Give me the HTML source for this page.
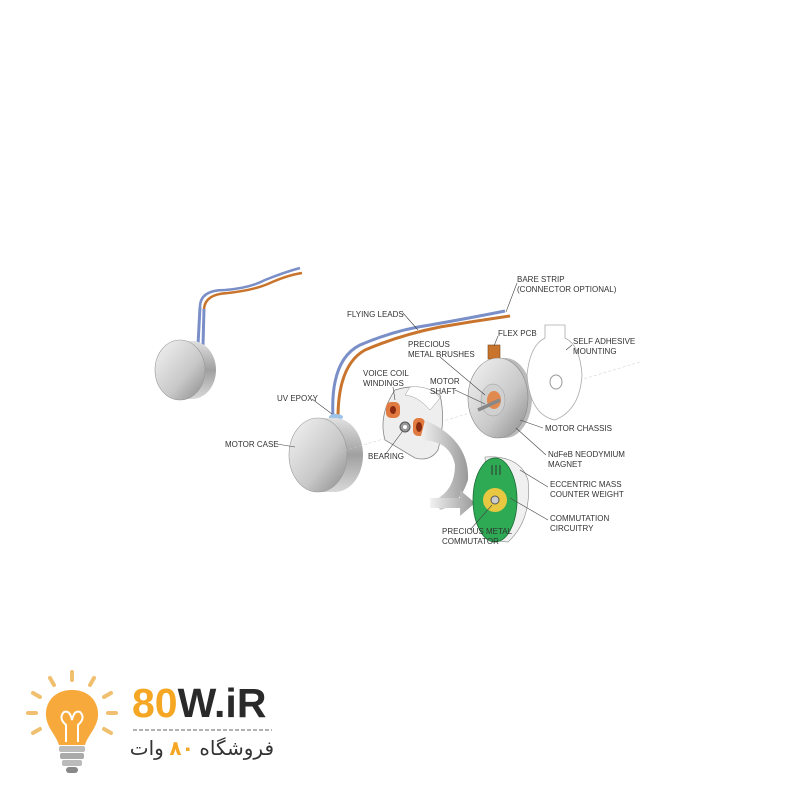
<!DOCTYPE html>
<html><head><meta charset="utf-8"><style>
body{margin:0;background:#fff;width:800px;height:800px;overflow:hidden;position:relative}
svg text{font-family:"Liberation Sans",sans-serif;font-size:8px;fill:#333}
#fa{position:absolute;left:128px;top:737px;width:146px;text-align:right;direction:rtl;font-family:"Liberation Sans","DejaVu Sans",sans-serif;font-size:20px;color:#333;line-height:24px;white-space:nowrap}
</style></head><body>
<svg width="800" height="800" viewBox="0 0 800 800" xmlns="http://www.w3.org/2000/svg">
<defs>
<linearGradient id="met" x1="0" y1="0" x2="1" y2="1"><stop offset="0" stop-color="#f4f4f4"/><stop offset="0.6" stop-color="#c8c8c8"/><stop offset="1" stop-color="#8a8a8a"/></linearGradient>
<linearGradient id="side" x1="0" y1="0" x2="0" y2="1"><stop offset="0" stop-color="#e0e0e0"/><stop offset="0.5" stop-color="#a0a0a0"/><stop offset="1" stop-color="#d8d8d8"/></linearGradient>
<linearGradient id="arr" x1="0" y1="0" x2="1" y2="0"><stop offset="0" stop-color="#f2f2f2"/><stop offset="1" stop-color="#999"/></linearGradient>
</defs>
<path d="M200,307 Q200,290 225,290 Q250,288 265,280 Q285,272 300,268" stroke="#7a8fc8" stroke-width="2.5" fill="none"/>
<path d="M204,309 Q205,294 228,293 Q255,290 270,283 Q288,275 302,273" stroke="#c8742c" stroke-width="2.5" fill="none"/>
<path d="M200,307 L198,345 M204,309 L203,345" stroke="#7a8fc8" stroke-width="3"/>
<ellipse cx="192" cy="370" rx="24" ry="29" fill="url(#side)"/>
<rect x="183" y="341" width="10" height="58" fill="url(#side)"/>
<ellipse cx="180" cy="370" rx="25" ry="30" fill="url(#met)" stroke="#999" stroke-width="0.6"/>
<path d="M333,417 Q330,360 360,345 Q395,330 430,325 Q470,318 505,311" stroke="#7a8fc8" stroke-width="3" fill="none"/>
<path d="M338,418 Q338,365 365,350 Q400,335 440,327 Q475,321 510,316" stroke="#c8742c" stroke-width="3" fill="none"/>
<ellipse cx="336" cy="417" rx="7" ry="3" fill="#9cc3e8"/>
<ellipse cx="335" cy="455" rx="28" ry="37" fill="url(#side)"/>
<rect x="318" y="418" width="18" height="74" fill="url(#side)"/>
<ellipse cx="318" cy="455" rx="29" ry="37" fill="url(#met)" stroke="#999" stroke-width="0.6"/>
<line x1="340" y1="452" x2="640" y2="362" stroke="#ccc" stroke-width="0.5" stroke-dasharray="3,2"/>
<path d="M395,390 Q420,382 440,395 Q446,420 438,450 Q430,462 415,458 L385,440 Q378,415 395,390Z" fill="#eee" stroke="#888" stroke-width="0.8"/>
<path d="M410,387 Q430,385 440,398 L430,410 Q418,396 405,395Z" fill="#fff" stroke="#999" stroke-width="0.5"/>
<rect x="386" y="402" width="14" height="16" rx="5" fill="#e07a40"/><ellipse cx="393" cy="410" rx="3" ry="4" fill="#8a2a10"/>
<rect x="413" y="418" width="12" height="18" rx="5" fill="#e07a40"/><ellipse cx="419" cy="427" rx="3" ry="5" fill="#8a2a10"/>
<circle cx="405" cy="427" r="5" fill="#999" stroke="#555"/><circle cx="405" cy="427" r="2" fill="#fff"/>
<rect x="488" y="345" width="12" height="14" fill="#c8742c" stroke="#7a4a1a" stroke-width="0.6"/>
<ellipse cx="505" cy="398" rx="27" ry="40" fill="#bbb"/>
<ellipse cx="498" cy="398" rx="30" ry="40" fill="url(#met)" stroke="#888" stroke-width="0.6"/>
<ellipse cx="493" cy="400" rx="12" ry="16" fill="#d0d0d0" stroke="#999" stroke-width="0.5"/>
<ellipse cx="494" cy="400" rx="7" ry="9" fill="#e08a50"/>
<line x1="478" y1="410" x2="500" y2="400" stroke="#888" stroke-width="3.5"/>
<path d="M545,325 L565,325 L565,338 Q580,345 582,375 Q580,410 555,420 Q530,415 527,375 Q530,345 545,338Z" fill="#fff" stroke="#aaa" stroke-width="0.8"/>
<ellipse cx="556" cy="382" rx="6" ry="7" fill="none" stroke="#999"/>
<path d="M425,420 Q470,440 468,480 Q460,505 440,510 L435,500 Q455,490 455,465 Q450,440 420,440Z" fill="url(#arr)"/>
<path d="M430,498 L460,498 L460,490 L475,503 L460,516 L460,508 L430,508Z" fill="url(#arr)"/>
<path d="M485,457 Q520,455 528,480 Q532,520 508,542 L490,540 Z" fill="#f0f0f0" stroke="#888" stroke-width="0.6"/>
<ellipse cx="495" cy="500" rx="22" ry="42" fill="#2eaa55" stroke="#1b6a35" stroke-width="0.8"/>
<circle cx="495" cy="500" r="12" fill="#e8c840"/>
<circle cx="495" cy="500" r="4" fill="#ccc" stroke="#555"/>
<line x1="492" y1="465" x2="492" y2="475" stroke="#333"/><line x1="496" y1="465" x2="496" y2="475" stroke="#333"/><line x1="500" y1="465" x2="500" y2="475" stroke="#333"/>
<g stroke="#444" stroke-width="0.6" fill="none">
<path d="M517,283 L506,312"/><path d="M403,313 L418,330"/><path d="M498,336 L494,346"/>
<path d="M572,345 L566,350"/><path d="M440,357 L485,395"/><path d="M393,387 L395,400"/>
<path d="M455,390 L485,404"/><path d="M312,399 L332,414"/><path d="M543,428 L520,420"/>
<path d="M277,444 L295,447"/><path d="M385,455 L402,432"/><path d="M546,455 L516,428"/>
<path d="M548,487 L520,470"/><path d="M548,520 L510,498"/><path d="M470,530 L492,505"/>
</g>
<text x="517" y="282">BARE STRIP</text><text x="517" y="292">(CONNECTOR OPTIONAL)</text>
<text x="347" y="317">FLYING LEADS</text>
<text x="498" y="336">FLEX PCB</text>
<text x="573" y="344">SELF ADHESIVE</text><text x="573" y="354">MOUNTING</text>
<text x="408" y="347">PRECIOUS</text><text x="408" y="357">METAL BRUSHES</text>
<text x="363" y="376">VOICE COIL</text><text x="363" y="386">WINDINGS</text>
<text x="430" y="384">MOTOR</text><text x="430" y="394">SHAFT</text>
<text x="277" y="401">UV EPOXY</text>
<text x="545" y="431">MOTOR CHASSIS</text>
<text x="225" y="447">MOTOR CASE</text>
<text x="368" y="459">BEARING</text>
<text x="548" y="457">NdFeB NEODYMIUM</text><text x="548" y="467">MAGNET</text>
<text x="550" y="487">ECCENTRIC MASS</text><text x="550" y="497">COUNTER WEIGHT</text>
<text x="550" y="521">COMMUTATION</text><text x="550" y="531">CIRCUITRY</text>
<text x="442" y="534">PRECIOUS METAL</text><text x="442" y="544">COMMUTATOR</text>
<g stroke="#f0c070" stroke-width="4" stroke-linecap="round">
<line x1="72" y1="672" x2="72" y2="680"/><line x1="50" y1="678" x2="54" y2="685"/><line x1="94" y1="678" x2="90" y2="685"/>
<line x1="33" y1="693" x2="40" y2="697"/><line x1="111" y1="693" x2="104" y2="697"/>
<line x1="28" y1="713" x2="36" y2="713"/><line x1="116" y1="713" x2="108" y2="713"/>
<line x1="33" y1="733" x2="40" y2="729"/><line x1="111" y1="733" x2="104" y2="729"/>
</g>
<path d="M72,690 C52,690 45,705 46,716 C47,728 56,735 59,745 L85,745 C88,735 97,728 98,716 C99,705 92,690 72,690Z" fill="#f7a93c"/>
<path d="M66,742 L66,725 Q58,718 64,712 Q70,710 72,720 Q74,710 80,712 Q86,718 78,725 L78,742" fill="none" stroke="#fff" stroke-width="2"/>
<rect x="59" y="746" width="26" height="6" rx="2" fill="#bbb"/>
<rect x="60" y="753" width="24" height="6" rx="2" fill="#aaa"/>
<rect x="62" y="760" width="20" height="6" rx="2" fill="#bbb"/>
<rect x="66" y="767" width="12" height="6" rx="3" fill="#888"/>
<text x="132" y="717" style="font-size:41px;font-weight:bold;fill:#f5a623;font-family:'Liberation Sans',sans-serif">80<tspan style="fill:#2a2a2a">W.iR</tspan></text>
<line x1="133" y1="730" x2="272" y2="730" stroke="#999" stroke-width="1.5" stroke-dasharray="4,2"/>
</svg>
<div id="fa">فروشگاه <span style="color:#f5a623;font-weight:bold">۸۰</span> وات</div>
</body></html>
